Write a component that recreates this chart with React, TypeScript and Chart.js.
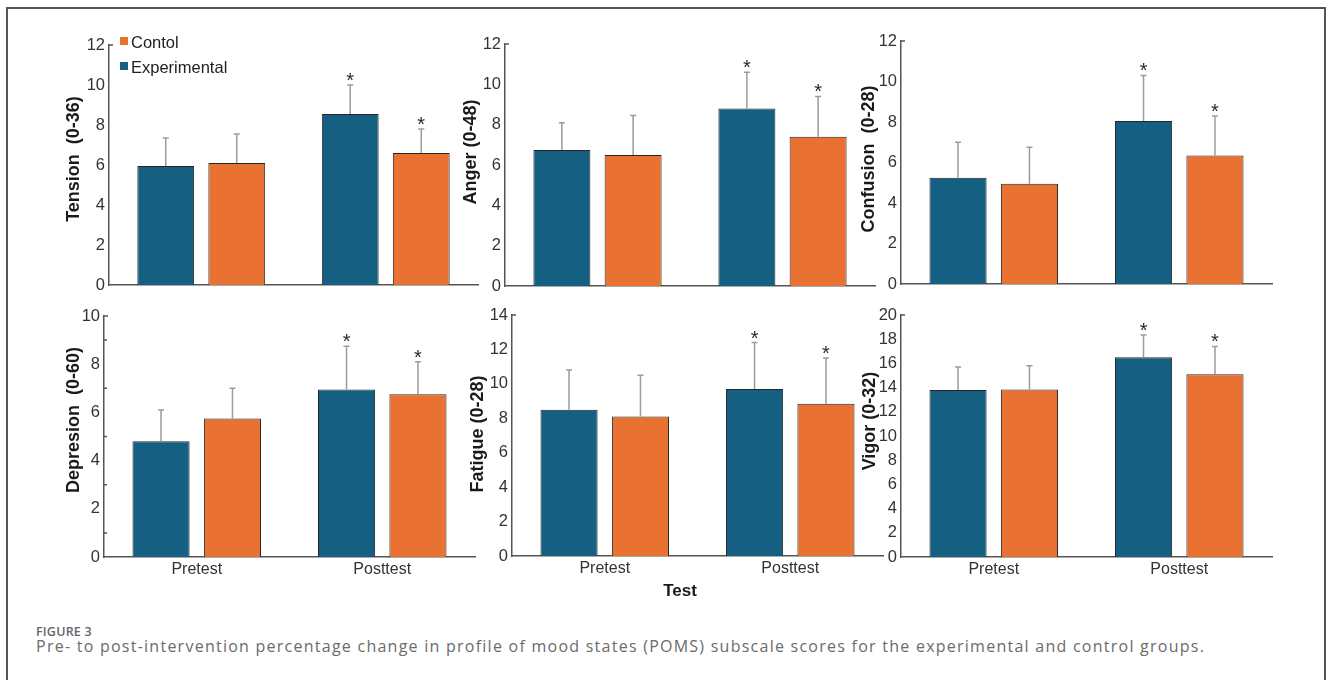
import React, { useEffect, useRef } from "react";
import { Chart, registerables } from "chart.js";

Chart.register(...registerables);

// ---------------- DATA ----------------
const categories = ["Pretest", "Posttest"];
const groupNames = ["Experimental", "Contol"];

const tensionExperimental = [5.95, 8.55];
const tensionExperimentalSD = [1.4, 1.45];
const tensionControl = [6.1, 6.6];
const tensionControlSD = [1.45, 1.2];

const angerExperimental = [6.75, 8.8];
const angerExperimentalSD = [1.35, 1.8];
const angerControl = [6.5, 7.4];
const angerControlSD = [1.95, 2.0];

const confusionExperimental = [5.25, 8.05];
const confusionExperimentalSD = [1.75, 2.25];
const confusionControl = [4.95, 6.35];
const confusionControlSD = [1.8, 1.95];

const depressionExperimental = [4.8, 6.95];
const depressionExperimentalSD = [1.3, 1.8];
const depressionControl = [5.75, 6.75];
const depressionControlSD = [1.25, 1.35];

const fatigueExperimental = [8.5, 9.7];
const fatigueExperimentalSD = [2.3, 2.7];
const fatigueControl = [8.1, 8.85];
const fatigueControlSD = [2.4, 2.65];

const vigorExperimental = [13.8, 16.5];
const vigorExperimentalSD = [1.9, 1.85];
const vigorControl = [13.85, 15.1];
const vigorControlSD = [1.95, 2.3];

const significantExperimental = [false, true];
const significantControl = [false, true];

const panelTitles = [
  "Tension  (0-36)",
  "Anger (0-48)",
  "Confusion  (0-28)",
  "Depresion  (0-60)",
  "Fatigue (0-28)",
  "Vigor (0-32)",
];
const panelYMax = [12, 12, 12, 10, 14, 20];
const yTickStep = 2;

const xAxisTitle = "Test";
const figureLabel = "FIGURE 3";
const figureCaption =
  "Pre- to post-intervention percentage change in profile of mood states (POMS) subscale scores for the experimental and control groups.";

// ---------------- STYLE / LAYOUT ----------------
const BLUE = "#156082";
const ORANGE = "#E97132";
const BAR_BORDER = "#262626";
const AXIS = "#555555";
const TICK_COLOR = "#333333";
const ERR_COLOR = "#9b9b9b";
const FONT = "'Liberation Sans', Arial, sans-serif";

const Y_W = 70;
const PAD_T = 20;
const PAD_R = 10;
const X_H = 40;

type Layout = {
  axisX: number;
  right: number;
  top: number;
  bottom: number;
  titleX: number;
  titleY: number;
  showX: boolean;
  minor: number[];
};

const layouts: Layout[] = [
  { axisX: 109, right: 478, top: 45, bottom: 285, titleX: 74.5, titleY: 159, showX: false, minor: [] },
  { axisX: 505, right: 875, top: 44, bottom: 286, titleX: 471.5, titleY: 152, showX: false, minor: [] },
  { axisX: 901, right: 1272, top: 41, bottom: 284, titleX: 869, titleY: 159, showX: false, minor: [] },
  { axisX: 104, right: 475, top: 316, bottom: 557, titleX: 74, titleY: 420, showX: true, minor: [1, 3, 5, 7, 9] },
  { axisX: 512, right: 883, top: 315, bottom: 556, titleX: 478.5, titleY: 434, showX: true, minor: [] },
  { axisX: 901, right: 1272, top: 315, bottom: 557, titleX: 870.5, titleY: 421, showX: true, minor: [] },
];

const panelSeries = [
  [tensionExperimental, tensionExperimentalSD, tensionControl, tensionControlSD],
  [angerExperimental, angerExperimentalSD, angerControl, angerControlSD],
  [confusionExperimental, confusionExperimentalSD, confusionControl, confusionControlSD],
  [depressionExperimental, depressionExperimentalSD, depressionControl, depressionControlSD],
  [fatigueExperimental, fatigueExperimentalSD, fatigueControl, fatigueControlSD],
  [vigorExperimental, vigorExperimentalSD, vigorControl, vigorControlSD],
];

const decorPlugin = {
  id: "decor",
  afterDatasetsDraw(chart: any) {
    const ctx = chart.ctx;
    const y = chart.scales.y;
    chart.data.datasets.forEach((ds: any, di: number) => {
      const meta = chart.getDatasetMeta(di);
      meta.data.forEach((bar: any, i: number) => {
        const top = y.getPixelForValue(ds.data[i] + ds.sd[i]);
        ctx.save();
        ctx.strokeStyle = ERR_COLOR;
        ctx.lineWidth = 1.5;
        ctx.beginPath();
        ctx.moveTo(bar.x, bar.y);
        ctx.lineTo(bar.x, top);
        ctx.moveTo(bar.x - 3, top);
        ctx.lineTo(bar.x + 3, top);
        ctx.stroke();
        if (ds.sig[i]) {
          ctx.fillStyle = "#2a2a2a";
          ctx.font = `20px ${FONT}`;
          ctx.textAlign = "center";
          ctx.textBaseline = "alphabetic";
          ctx.fillText("*", bar.x, top + 2);
        }
        ctx.restore();
      });
    });
  },
  afterDraw(chart: any, _args: any, opts: any) {
    const ctx = chart.ctx;
    const y = chart.scales.y;
    const left = chart.chartArea.left;
    ctx.save();
    ctx.strokeStyle = AXIS;
    ctx.lineWidth = 1.5;
    ctx.beginPath();
    const capY = y.getPixelForValue(y.max);
    ctx.moveTo(left, capY);
    ctx.lineTo(left + 4, capY);
    (opts.minor || []).forEach((v: number) => {
      const py = y.getPixelForValue(v);
      ctx.moveTo(left, py);
      ctx.lineTo(left + 3, py);
    });
    ctx.stroke();
    ctx.translate(opts.titleX - opts.offX, opts.titleY - opts.offY);
    ctx.rotate(-Math.PI / 2);
    ctx.fillStyle = "#1a1a1a";
    ctx.font = `bold 18px ${FONT}`;
    ctx.textAlign = "center";
    ctx.textBaseline = "middle";
    ctx.fillText(opts.title, 0, 0);
    ctx.restore();
  },
};

function Panel({ idx }: { idx: number }) {
  const ref = useRef<HTMLCanvasElement | null>(null);
  const lay = layouts[idx];
  const L = lay.axisX - Y_W;
  const T = lay.top - PAD_T;
  const W = Y_W + (lay.right - lay.axisX) + PAD_R;
  const H = PAD_T + (lay.bottom - lay.top) + X_H;

  useEffect(() => {
    if (!ref.current) return;
    const [expV, expSD, conV, conSD] = panelSeries[idx];
    const chart = new Chart(ref.current, {
      type: "bar",
      data: {
        labels: categories,
        datasets: [
          {
            label: groupNames[0],
            data: expV,
            sd: expSD,
            sig: significantExperimental,
            backgroundColor: BLUE,
            borderColor: BAR_BORDER,
            borderWidth: 1,
            categoryPercentage: 0.77,
            barPercentage: 0.8,
          } as any,
          {
            label: groupNames[1],
            data: conV,
            sd: conSD,
            sig: significantControl,
            backgroundColor: ORANGE,
            borderColor: BAR_BORDER,
            borderWidth: 1,
            categoryPercentage: 0.77,
            barPercentage: 0.8,
          } as any,
        ],
      },
      options: {
        animation: false,
        responsive: false,
        maintainAspectRatio: false,
        devicePixelRatio: 1,
        events: [],
        layout: { padding: { left: 0, top: PAD_T, right: PAD_R, bottom: 0 } },
        plugins: {
          legend: { display: false },
          tooltip: { enabled: false },
          decor: {
            title: panelTitles[idx],
            titleX: lay.titleX,
            titleY: lay.titleY,
            offX: L,
            offY: T,
            minor: lay.minor,
          },
        } as any,
        scales: {
          x: {
            z: 1,
            grid: { display: false, drawTicks: false },
            border: { display: true, color: AXIS, width: 1.5 },
            ticks: {
              display: lay.showX,
              color: TICK_COLOR,
              font: { family: FONT, size: 16 },
              padding: 3,
            },
            afterFit: (s: any) => {
              s.height = X_H;
            },
          },
          y: {
            min: 0,
            max: panelYMax[idx],
            grid: { display: false, drawTicks: false },
            border: { display: true, color: AXIS, width: 1.5 },
            ticks: {
              stepSize: yTickStep,
              color: TICK_COLOR,
              font: { family: FONT, size: 16.5 },
              padding: 4,
            },
            afterFit: (s: any) => {
              s.width = Y_W;
            },
          },
        },
      },
      plugins: [decorPlugin as any],
    });
    return () => chart.destroy();
  }, [idx]);

  return (
    <canvas
      ref={ref}
      width={W}
      height={H}
      style={{ position: "absolute", left: L, top: T, width: W, height: H }}
    />
  );
}

export default function App() {
  return (
    <div
      style={{
        position: "fixed",
        left: 0,
        top: 0,
        width: 1330,
        height: 680,
        overflow: "hidden",
        background: "#fff",
      }}
    >
      <div
        style={{
          position: "absolute",
          left: 6,
          top: 7,
          width: 1320,
          height: 720,
          border: "2px solid #555",
          boxSizing: "border-box",
        }}
      />
      {layouts.map((_, i) => (
        <Panel key={i} idx={i} />
      ))}
      <div style={{ position: "absolute", left: 120, top: 37, width: 8, height: 8, background: ORANGE }} />
      <div
        style={{
          position: "absolute",
          left: 131,
          top: 31.5,
          font: `16.5px ${FONT}`,
          lineHeight: "20px",
          color: "#222",
          whiteSpace: "nowrap",
        }}
      >
        {groupNames[1]}
      </div>
      <div style={{ position: "absolute", left: 120, top: 62, width: 8, height: 8, background: BLUE }} />
      <div
        style={{
          position: "absolute",
          left: 131,
          top: 56.5,
          font: `16.5px ${FONT}`,
          lineHeight: "20px",
          color: "#222",
          whiteSpace: "nowrap",
        }}
      >
        {groupNames[0]}
      </div>
      <div
        style={{
          position: "absolute",
          left: 580,
          width: 200,
          top: 581,
          textAlign: "center",
          font: `bold 17px ${FONT}`,
          lineHeight: "20px",
          color: "#1a1a1a",
        }}
      >
        {xAxisTitle}
      </div>
      <div
        style={{
          position: "absolute",
          left: 36,
          top: 624,
          fontFamily: "'Open Sans', sans-serif",
          fontWeight: 600,
          fontSize: 12.5,
          letterSpacing: "0.2px",
          lineHeight: "16px",
          color: "#666",
          whiteSpace: "nowrap",
        }}
      >
        {figureLabel}
      </div>
      <div
        style={{
          position: "absolute",
          left: 36,
          top: 636,
          fontFamily: "'Open Sans', sans-serif",
          fontWeight: 400,
          fontSize: 16,
          letterSpacing: "1.25px",
          lineHeight: "20px",
          color: "#6b6b6b",
          whiteSpace: "nowrap",
        }}
      >
        {figureCaption}
      </div>
    </div>
  );
}
